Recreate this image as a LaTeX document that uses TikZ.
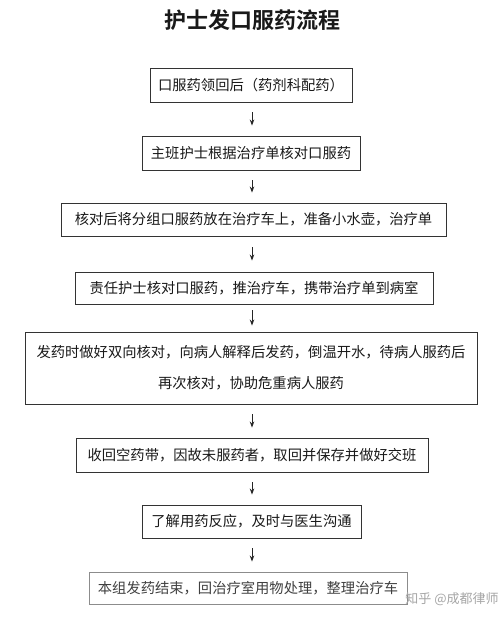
\documentclass[tikz,border=0pt]{standalone}
\usepackage{fontspec}
\newfontfamily\cjk{Noto Sans CJK SC}
\newfontfamily\cjkb{Noto Sans CJK SC Bold}
\usetikzlibrary{arrows.meta}
\begin{document}
\begin{tikzpicture}[x=1pt,y=-1pt,
  stepbox/.style={draw=black!80,line width=0.9pt,inner sep=0pt,font=\cjk\fontsize{14.3}{31}\selectfont,text=black!90},
  lastbox/.style={stepbox,draw=black!45,text=black!75},
  arr/.style={line width=0.9pt,draw=black!85,-{Stealth[length=6pt,width=4.5pt]}}]
\useasboundingbox[fill=white] (0,0) rectangle (501,621);
\node[font=\cjkb\fontsize{22}{24}\selectfont,text=black!90] (title) at (252,20) {护士发口服药流程};
\node[stepbox,minimum width=202pt,minimum height=34pt] (b1) at (251,85) {口服药领回后（药剂科配药）};
\node[stepbox,minimum width=218pt,minimum height=34pt] (b2) at (251,153) {主班护士根据治疗单核对口服药};
\node[stepbox,minimum width=385pt,minimum height=33pt] (b3) at (253.5,219.5) {核对后将分组口服药放在治疗车上，准备小水壶，治疗单};
\node[stepbox,minimum width=358pt,minimum height=32pt] (b4) at (254,288) {责任护士核对口服药，推治疗车，携带治疗单到病室};
\node[stepbox,minimum width=452pt,minimum height=72pt,align=center] (b5) at (251,368) {发药时做好双向核对，向病人解释后发药，倒温开水，待病人服药后\\再次核对，协助危重病人服药};
\node[stepbox,minimum width=352pt,minimum height=34pt] (b6) at (252,455) {收回空药带，因故未服药者，取回并保存并做好交班};
\node[stepbox,minimum width=219pt,minimum height=33pt] (b7) at (251.5,521.5) {了解用药反应，及时与医生沟通};
\node[lastbox,minimum width=318pt,minimum height=32pt] (b8) at (248,588) {本组发药结束，回治疗室用物处理，整理治疗车};
\node[font=\cjk\fontsize{13}{15}\selectfont,text=black!35] (wm) at (452,599) {知乎 @成都律师};
\coordinate (ax) at (252,0);
\foreach \a/\b/\s in {b1/b2/10,b2/b3/10,b3/b4/11,b4/b5/6,b5/b6/10,b6/b7/10,b7/b8/10}{
  \draw[arr,shorten <=\s pt,shorten >=\s pt] (\a.south -| ax) -- (\b.north -| ax);
}
\end{tikzpicture}
\end{document}
